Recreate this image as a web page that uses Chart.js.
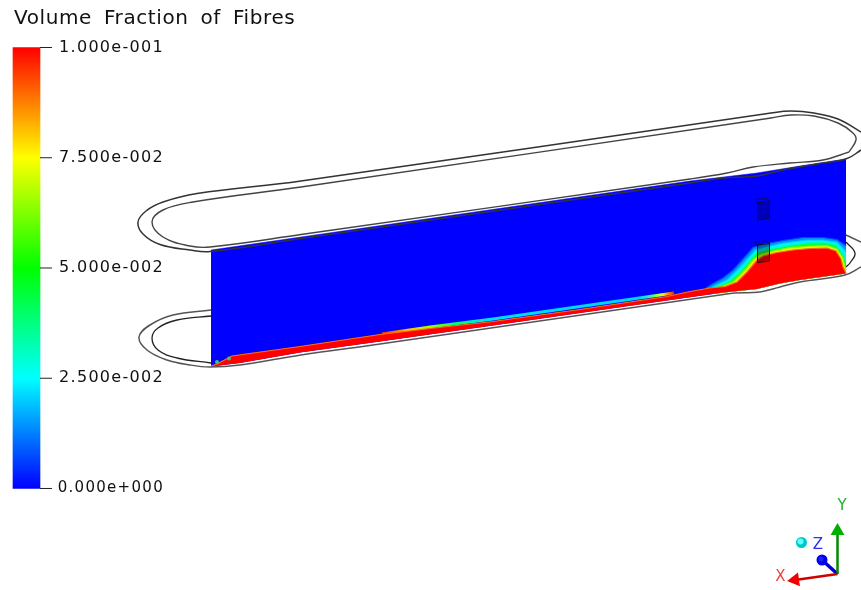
<!DOCTYPE html>
<html>
<head>
<meta charset="utf-8">
<title>Volume Fraction of Fibres</title>
<script src="https://cdn.jsdelivr.net/npm/chart.js@4/dist/chart.umd.min.js"></script>
<style>
    html, body { margin: 0; padding: 0; background: #fff; }
    #wrap { width: 861px; height: 590px; }
</style>
</head>
<body>
<div id="wrap"><canvas id="chart"></canvas></div>
<script>
// picture space: x and y are read straight off the reference in pixels
const titleText = 'Volume Fraction of Fibres';

// colour bar
const colorbarRange = [0, 0.1];
const colorbarTicks = [0, 0.025, 0.05, 0.075, 0.1];
const colorbarLabels = ['0.000e+000', '2.500e-002', '5.000e-002', '7.500e-002', '1.000e-001'];
const colorbarStops = [
    [0, '#0000ff'],
    [0.025, '#00ffff'],
    [0.05, '#00ff00'],
    [0.075, '#ffff00'],
    [0.1, '#ff0000']
];

// slice outline
const fieldTop = [[211, 250], [301, 237], [690, 181], [757, 173], [800, 166], [846, 159]];
const fieldBottom = [[211, 366.5], [240, 363], [300, 352.5], [380, 341.5], [493, 325.5], [580, 313], [667, 300.5], [720, 293], [733, 291.5], [757, 289], [780, 283.5], [800, 280], [846, 273.5]];

// contour lines of the fibre fraction, from lowest to highest level
const contourLow = [[706, 288], [712, 284], [723, 278], [733, 270], [743, 259], [753, 247.5], [762, 244.5], [783, 240.5], [803, 237.5], [823, 237.5], [837, 239.5], [845, 245], [846, 246]];
const contourCyan = [[712, 287], [718, 284], [727, 279.5], [737, 270], [747, 259], [755, 250], [767, 246.5], [783, 243], [807, 240], [823, 240], [837, 242], [845, 250], [846, 252]];
const contourGreen = [[716, 287], [721, 285], [730, 281], [740, 272], [750, 260], [757, 252.5], [770, 249], [790, 245.5], [807, 243], [823, 242.5], [836, 245], [844, 256], [846, 262]];
const contourYellow = [[720, 287], [724, 285.5], [733, 282], [743, 272], [753, 260], [760, 254.5], [773, 251], [790, 247.5], [810, 246], [827, 245.5], [837, 249], [843, 258], [845, 267], [846, 270]];
const redTop = [[211, 366], [217, 364], [232, 356], [300, 346.5], [380, 334.5], [430, 328.5], [493, 321.5], [580, 309.5], [667, 296.5], [690, 291.5], [710, 288], [725, 286.5], [737, 282], [747, 272], [757, 260], [763, 256], [777, 252.5], [793, 250], [810, 248.5], [827, 248], [836, 251], [841, 259], [843, 267], [846, 273]];

// thin layer riding on the red sediment, colour read along its length
const ribbon = [[382, 334], [430, 327], [493, 319], [580, 306.5], [667, 294], [674, 293]];
const ribbonStops = [[382, '#ff3000'], [408, '#ffc000'], [430, '#a0ff00'], [455, '#00ff60'], [490, '#00e0ff'], [640, '#00d0ff'], [652, '#40ff80'], [662, '#f0ff00'], [674, '#ff2000']];
const specks = [[217, 362], [229, 358.5]];

// channel rings
const upperOuterRing = [[861, 150], [847, 158.5], [817, 164], [783, 170], [757, 176], [723, 178], [690, 183], [301, 238.5], [210, 251.5], [190, 250], [160, 244.5], [143, 234], [138, 222], [146, 211], [163, 202], [197, 193.5], [301, 181], [771, 113], [791, 111], [814, 113], [838, 119], [861, 132]];
const upperInnerRing = [[849, 152], [823, 160], [790, 163], [753, 167], [727, 173], [690, 179], [301, 234.5], [210, 247], [190, 246], [163, 237], [152, 222], [163, 210], [193, 202], [301, 187], [771, 118], [791, 115], [814, 116], [838, 123], [853, 133], [856, 140], [849, 152]];
const lowerOuterRing = [[211, 310], [173, 315], [150, 325], [139, 337], [147, 350], [167, 360], [190, 365], [210, 367], [240, 365], [301, 355], [380, 344], [720, 295], [735, 293], [760, 292], [780, 287], [800, 282], [845, 275], [861, 267]];
const lowerInnerRingLeft = [[211, 316], [177, 320], [158, 328], [152, 338], [158, 350], [177, 358], [211, 363]];
const lowerInnerRingRight = [[846, 242], [855, 253], [850, 263], [846, 267]];
const lowerOuterRingRight = [[846, 235], [861, 242]];

// two probe boxes: front face top and bottom edges, back corners
const boxATop = [[757.5, 202.5], [769.5, 201]];
const boxABottom = [[757.5, 220], [769.5, 218.5]];
const boxABack = [[754.5, 199.5], [757.5, 202.5], [765.5, 198.5], [769.5, 201]];
const boxBTop = [[757.5, 245], [769.5, 243.5]];
const boxBBottom = [[757.5, 262.5], [769.5, 261]];
const boxBBack = [[754.5, 242], [757.5, 245], [765.5, 241], [769.5, 243.5]];

// axis triad
const triadOrigin = [837.5, 574];
const triadXEnd = [795, 580];
const triadYEnd = [837.5, 531];
const triadZEnd = [822, 560];
const triadLabels = [['X', 780.5, 577, '#f04040'], ['Y', 842, 506, '#20b020'], ['Z', 818, 545, '#3030f0']];
const cyanBall = [801.5, 542.5];

const pts = list => list.map(p => ({ x: p[0], y: p[1] }));
const datasets = [];

function add(ds) {
    // later entries paint on top
    ds.order = 1000 - datasets.length;
    datasets.push(ds);
    return datasets.length - 1;
}

function line(list, color, width, extra) {
    return add(Object.assign({
        type: 'line',
        data: pts(list),
        borderColor: color,
        borderWidth: width,
        pointRadius: 0,
        tension: 0,
        fill: false
    }, extra || {}));
}

function ring(list, color, width) {
    return line(list, color, width, { tension: 0.4 });
}

function verticalGradient(chart) {
    const cb = chart.scales.cb;
    const y0 = cb ? cb.getPixelForValue(colorbarRange[0]) : NaN;
    const y1 = cb ? cb.getPixelForValue(colorbarRange[1]) : NaN;
    // scales have no size yet on the first pass
    if (!isFinite(y0) || !isFinite(y1)) return '#0000ff';
    const g = chart.ctx.createLinearGradient(0, y0, 0, y1);
    colorbarStops.forEach(s => g.addColorStop(s[0] / colorbarRange[1], s[1]));
    return g;
}

function ribbonGradient(chart) {
    const x = chart.scales.x;
    const x0 = ribbonStops[0][0];
    const x1 = ribbonStops[ribbonStops.length - 1][0];
    const p0 = x ? x.getPixelForValue(x0) : NaN;
    const p1 = x ? x.getPixelForValue(x1) : NaN;
    if (!isFinite(p0) || !isFinite(p1)) return '#00d0ff';
    const g = chart.ctx.createLinearGradient(p0, 0, p1, 0);
    ribbonStops.forEach(s => g.addColorStop((s[0] - x0) / (x1 - x0), s[1]));
    return g;
}

// rings of the lower surface sit behind the slice
ring(lowerOuterRing, '#555', 1.5);
ring(lowerInnerRingLeft, '#222', 1.3);
ring(lowerInnerRingRight, '#222', 1.3);
line(lowerOuterRingRight, '#555', 1.5);

const bottomIdx = line(fieldBottom, 'transparent', 0);
line(fieldTop, '#0000ff', 0.5, { fill: { target: bottomIdx }, backgroundColor: '#0000ff' });

// contour layers, the border is the half step towards the previous colour
const band = (list, fill, edge) => line(list, edge, 1.2, { fill: { target: bottomIdx }, backgroundColor: fill });
band(contourLow, '#0090ff', '#0048ff');
band(contourCyan, '#00f0ff', '#00c0ff');
band(contourGreen, '#00ff40', '#00ffa0');
band(contourYellow, '#e0ff00', '#80ff00');

line(ribbon, ctx => ribbonGradient(ctx.chart), 3);
line(redTop, '#ff7000', 1.2, { fill: { target: bottomIdx }, backgroundColor: '#ff0000' });
add({ type: 'scatter', data: pts(specks), pointRadius: 2, backgroundColor: '#40c080', borderWidth: 0 });

// probe boxes
[[boxATop, boxABottom, boxABack, 'rgba(0,0,60,0.35)'], [boxBTop, boxBBottom, boxBBack, 'rgba(0,0,0,0.32)']].forEach(b => {
    const bottom = line(b[1], '#101020', 1);
    line(b[0], '#101020', 1, { fill: { target: bottom }, backgroundColor: b[3] });
    line([b[0][0], b[1][0]], '#101020', 1);
    line([b[0][1], b[1][1]], '#101020', 1);
    line(b[2].slice(0, 2), '#101020', 1);
    line(b[2].slice(2, 4), '#101020', 1);
    line([b[2][0], b[2][2]], 'rgba(16,16,32,0.7)', 1);
});

// rings of the upper surface are in front
ring(upperOuterRing, '#333', 1.5);
ring(upperInnerRing, '#444', 1.4);

// colour bar with its tick dashes, on its own value axis
add({
    type: 'bar',
    yAxisID: 'cb',
    data: [{ x: 26.5, y: colorbarRange }],
    barThickness: 27,
    borderWidth: 0,
    clip: false,
    backgroundColor: ctx => verticalGradient(ctx.chart)
});
colorbarTicks.forEach(v => {
    add({
        type: 'line',
        yAxisID: 'cb',
        data: [{ x: 40, y: v }, { x: 52, y: v }],
        borderColor: '#222',
        borderWidth: 1,
        pointRadius: 0
    });
});

// axis triad
line([triadOrigin, triadZEnd], '#0000c8', 3.5);
line([triadOrigin, triadYEnd], '#008a00', 2.5);
line([triadOrigin, triadXEnd], '#d00000', 2.5);
const head = (p, color, rotation) => add({ type: 'scatter', data: pts([p]), pointStyle: 'triangle', pointRadius: 8, pointRotation: rotation, backgroundColor: color, borderWidth: 0 });
head(triadYEnd, '#00b000', 0);
head(triadXEnd, '#f00000', -98);
const ball = (p, color, r) => add({ type: 'scatter', data: pts([p]), pointRadius: r, backgroundColor: color, borderWidth: 0 });
ball(triadZEnd, '#0000f0', 5.5);
ball([triadZEnd[0] - 1, triadZEnd[1] - 1], '#2020ff', 2.5);
ball(cyanBall, '#00c8c8', 5.5);
ball([cyanBall[0] - 1, cyanBall[1] - 1], '#60ffff', 3);

const spacingPlugin = {
    id: 'spacing',
    beforeDraw(chart) {
        // title is drawn with these
        chart.ctx.letterSpacing = '0.6px';
        chart.ctx.wordSpacing = '5px';
    },
    afterDatasetsDraw(chart) {
        // the colour bar labels come next, ticks.z puts them after the datasets
        chart.ctx.letterSpacing = '1.3px';
        chart.ctx.wordSpacing = '0px';
    },
    afterDraw(chart) {
        const ctx = chart.ctx;
        ctx.save();
        ctx.letterSpacing = '0px';
        ctx.font = '15px "DejaVu Sans"';
        ctx.textAlign = 'center';
        ctx.textBaseline = 'middle';
        triadLabels.forEach(l => {
            ctx.fillStyle = l[3];
            ctx.fillText(l[0], chart.scales.x.getPixelForValue(l[1]), chart.scales.y.getPixelForValue(l[2]));
        });
        ctx.restore();
    }
};

new Chart(document.getElementById('chart'), {
    type: 'scatter',
    data: { datasets },
    plugins: [spacingPlugin],
    options: {
        responsive: true,
        maintainAspectRatio: false,
        animation: false,
        layout: { autoPadding: false, padding: { left: 14, top: 0, right: 0, bottom: 0 } },
        plugins: {
            legend: { display: false },
            tooltip: { enabled: false },
            title: {
                display: true,
                text: titleText,
                align: 'start',
                color: '#111',
                font: { family: '"DejaVu Sans"', size: 20, weight: 'normal', lineHeight: 1 },
                padding: { top: 9, bottom: 5 }
            }
        },
        scales: {
            x: { type: 'linear', min: 14, max: 861, offset: false, display: false },
            y: { type: 'linear', min: 34, max: 590, reverse: true, display: false },
            cb: {
                type: 'linear',
                // 0 sits at y=488.5 and 0.1 at y=47.5 in the picture
                min: -0.02302,
                max: 0.10306,
                position: { x: 164 },
                grid: { display: false, drawTicks: false },
                border: { display: false },
                afterBuildTicks: axis => { axis.ticks = colorbarTicks.map(v => ({ value: v })); },
                // labels must not push the plot area in from the bottom
                afterFit: axis => { axis.paddingTop = 0; axis.paddingBottom = 0; },
                ticks: {
                    z: 1,
                    autoSkip: false,
                    padding: 0,
                    color: '#111',
                    // the wide plus sign would run into the tick dash at full size
                    font: ctx => ({ family: '"DejaVu Sans"', size: ctx.index === 0 ? 15 : 16 }),
                    callback: value => colorbarLabels[colorbarTicks.indexOf(value)]
                }
            }
        }
    }
});
</script>
</body>
</html>
